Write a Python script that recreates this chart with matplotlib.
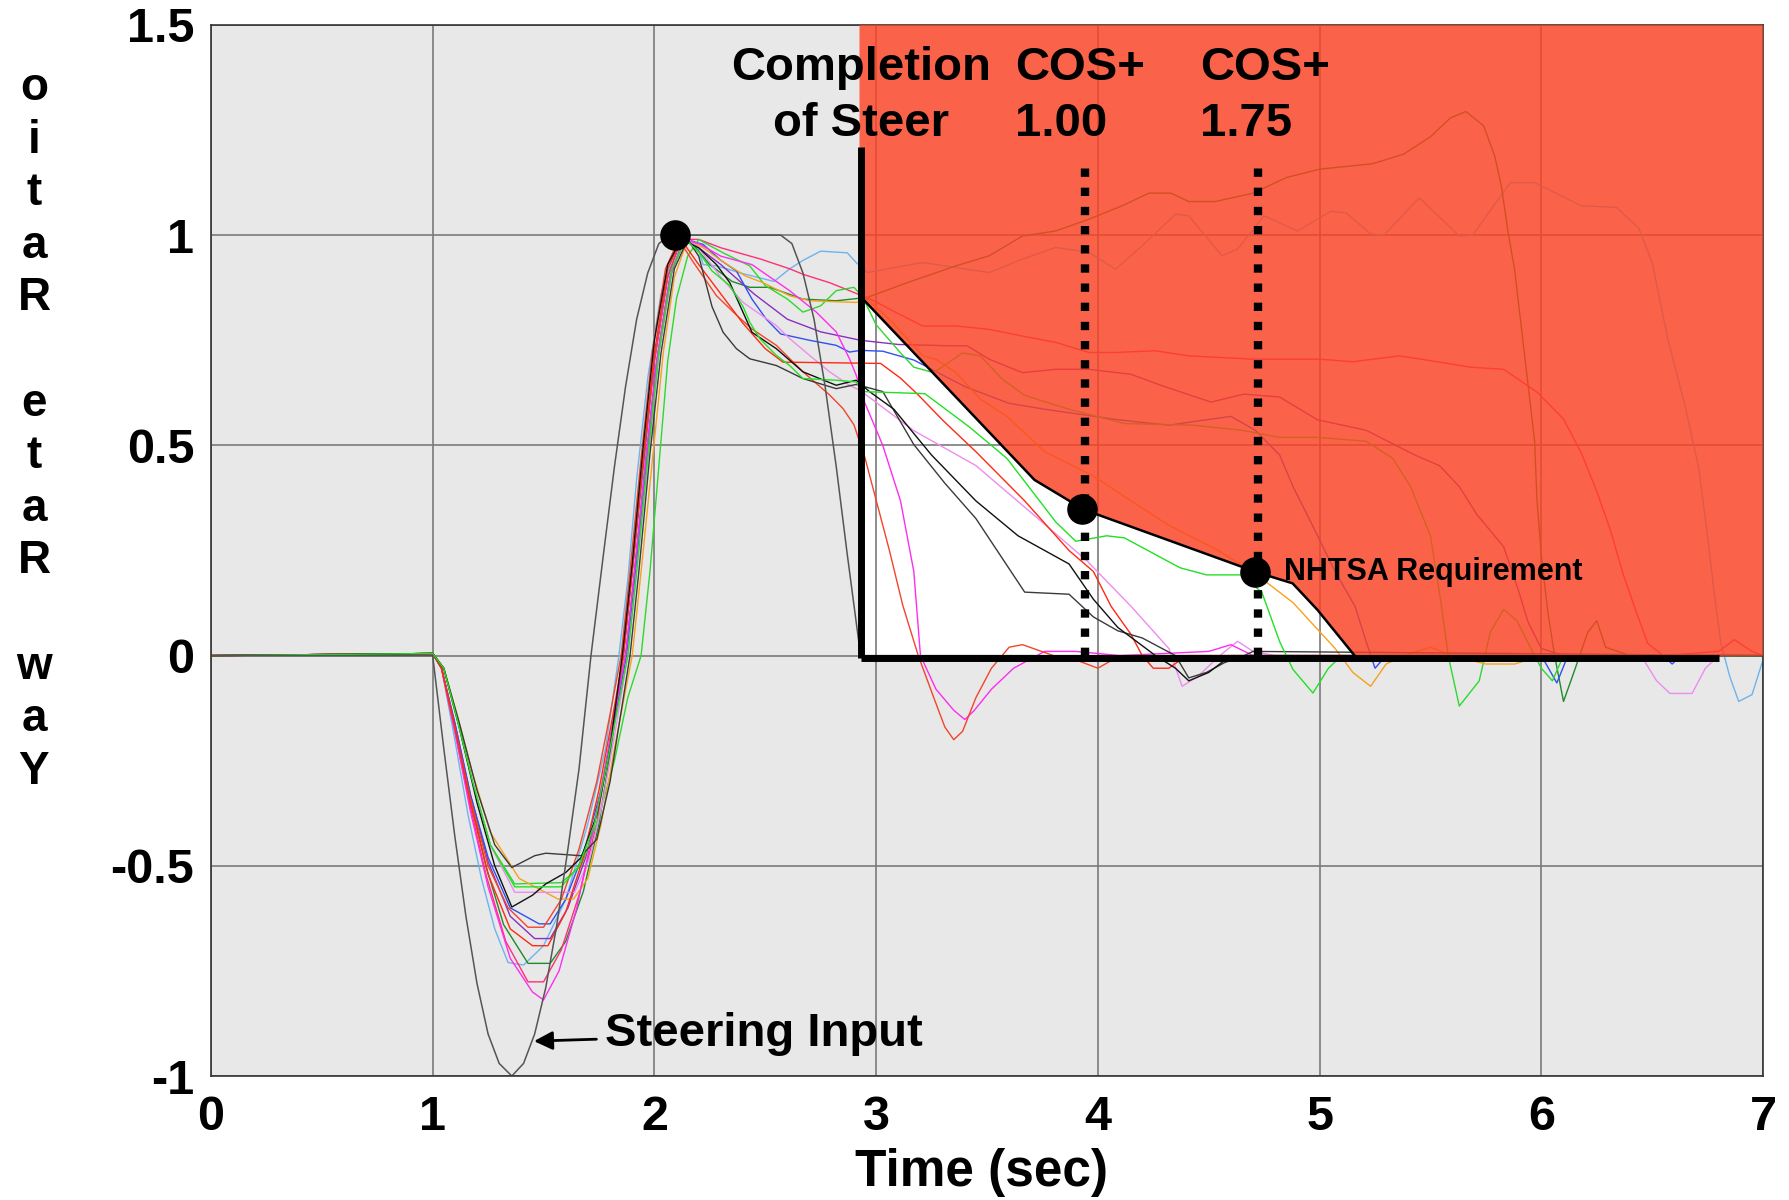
import numpy as np
import matplotlib.pyplot as plt
from matplotlib.patches import Polygon

plt.rcParams['font.family'] = ['Liberation Sans', 'DejaVu Sans']
plt.rcParams['font.weight'] = 'bold'
plt.rcParams['axes.unicode_minus'] = False

# ---- data (time in s, yaw rate ratio) ----
steer_t = [0, 1.0, 1.05, 1.1, 1.15, 1.2, 1.25, 1.3, 1.357, 1.41, 1.46, 1.51, 1.56, 1.61, 1.66, 1.714,
           1.77, 1.82, 1.87, 1.92, 1.97, 2.02, 2.07, 2.57, 2.62, 2.67, 2.72, 2.77, 2.82, 2.87, 2.93, 7.0]
steer_y = [0, 0, -0.22, -0.43, -0.62, -0.78, -0.9, -0.97, -1.0, -0.97, -0.9, -0.79, -0.64, -0.46, -0.27, 0,
           0.24, 0.45, 0.64, 0.8, 0.91, 0.98, 1.0, 1.0, 0.98, 0.91, 0.8, 0.64, 0.45, 0.24, 0, 0]

lblue = [(0, 0), (1.0, 0.005), (1.04, -0.03), (1.1, -0.2), (1.16, -0.38), (1.22, -0.53), (1.28, -0.65),
         (1.34, -0.73), (1.41, -0.736), (1.5, -0.69), (1.6, -0.58), (1.7, -0.4), (1.78, -0.22), (1.84, 0),
         (1.88, 0.18), (1.92, 0.42), (1.97, 0.66), (2.03, 0.86), (2.09, 0.96), (2.15, 0.995), (2.19, 0.98),
         (2.22, 0.93), (2.28, 0.927), (2.41, 0.907), (2.54, 0.89), (2.61, 0.92), (2.67, 0.94), (2.75, 0.962),
         (2.87, 0.958), (2.91, 0.935), (2.96, 0.911), (3.21, 0.935), (3.51, 0.911), (3.66, 0.943), (3.81, 0.971),
         (3.96, 0.959), (4.08, 0.919), (4.2, 0.975), (4.35, 1.05), (4.41, 1.046), (4.56, 0.951), (4.63, 0.967),
         (4.75, 1.046), (4.9, 1.01), (5.05, 1.057), (5.12, 1.053), (5.23, 1.003), (5.29, 1.0), (5.45, 1.089),
         (5.63, 0.998), (5.69, 1.0), (5.86, 1.125), (5.97, 1.125), (6.18, 1.07), (6.34, 1.066), (6.44, 1.016),
         (6.5, 0.935), (6.57, 0.754), (6.65, 0.59), (6.71, 0.446), (6.75, 0.283), (6.78, 0.147), (6.81, 0.029),
         (6.85, -0.05), (6.89, -0.109), (6.95, -0.093), (7.0, -0.01)]

dgreen = [(0, 0), (1.0, 0.005), (1.04, -0.03), (1.1, -0.17), (1.17, -0.34), (1.24, -0.5), (1.32, -0.64),
          (1.43, -0.732), (1.53, -0.732), (1.6, -0.68), (1.68, -0.56), (1.75, -0.4), (1.81, -0.2), (1.86, 0),
          (1.9, 0.2), (1.95, 0.45), (2.0, 0.7), (2.06, 0.9), (2.12, 0.99), (2.17, 0.98), (2.25, 0.93),
          (2.35, 0.89), (2.43, 0.876), (2.52, 0.876), (2.67, 0.848), (2.82, 0.844), (2.96, 0.852), (3.14, 0.887),
          (3.36, 0.927), (3.51, 0.951), (3.66, 0.998), (3.81, 1.01), (3.96, 1.038), (4.11, 1.07), (4.23, 1.1),
          (4.33, 1.1), (4.41, 1.08), (4.53, 1.08), (4.7, 1.1), (4.85, 1.137), (5.0, 1.157), (5.24, 1.17),
          (5.38, 1.193), (5.5, 1.234), (5.59, 1.279), (5.66, 1.294), (5.74, 1.26), (5.79, 1.188), (5.82, 1.116),
          (5.85, 1.007), (5.88, 0.917), (5.91, 0.78), (5.94, 0.645), (5.97, 0.509), (5.98, 0.373), (6.0, 0.237),
          (6.03, 0.101), (6.06, 0.0), (6.1, -0.109), (6.14, -0.05), (6.21, 0.056), (6.25, 0.083), (6.29, 0.02),
          (6.4, 0.0), (7.0, 0.0)]

crimson = [(0, 0), (1.0, 0.005), (1.04, -0.03), (1.1, -0.18), (1.17, -0.36), (1.24, -0.52), (1.33, -0.68),
           (1.43, -0.776), (1.5, -0.776), (1.58, -0.7), (1.66, -0.57), (1.74, -0.4), (1.8, -0.2), (1.86, 0),
           (1.9, 0.2), (1.95, 0.46), (2.0, 0.7), (2.06, 0.9), (2.12, 0.99), (2.2, 0.99), (2.3, 0.97),
           (2.48, 0.943), (2.61, 0.92), (2.67, 0.907), (2.79, 0.887), (2.88, 0.868), (2.99, 0.844), (3.09, 0.816),
           (3.21, 0.784), (3.36, 0.784), (3.51, 0.776), (3.66, 0.76), (3.81, 0.745), (3.96, 0.721), (4.08, 0.721),
           (4.26, 0.725), (4.41, 0.713), (4.7, 0.705), (5.0, 0.705), (5.15, 0.699), (5.36, 0.713), (5.53, 0.699),
           (5.68, 0.686), (5.83, 0.681), (5.98, 0.627), (6.1, 0.563), (6.18, 0.482), (6.25, 0.391), (6.31, 0.301),
           (6.37, 0.192), (6.43, 0.101), (6.48, 0.029), (6.55, 0.0), (6.8, 0.01), (6.87, 0.038), (6.95, 0.01),
           (7.0, 0.0)]

violet = [(0, 0), (1.0, 0.005), (1.04, -0.03), (1.1, -0.16), (1.17, -0.33), (1.25, -0.49), (1.35, -0.62),
          (1.46, -0.673), (1.53, -0.673), (1.61, -0.6), (1.69, -0.48), (1.76, -0.33), (1.82, -0.15), (1.87, 0),
          (1.91, 0.2), (1.96, 0.46), (2.01, 0.7), (2.07, 0.9), (2.13, 0.99), (2.2, 0.97), (2.3, 0.93),
          (2.45, 0.86), (2.6, 0.8), (2.75, 0.77), (2.93, 0.75), (3.1, 0.74), (3.33, 0.737), (3.41, 0.737),
          (3.51, 0.705), (3.66, 0.673), (3.81, 0.681), (3.96, 0.681), (4.15, 0.669), (4.3, 0.64), (4.51, 0.603),
          (4.66, 0.622), (4.82, 0.615), (4.99, 0.561), (5.21, 0.536), (5.43, 0.477), (5.54, 0.452), (5.63, 0.402),
          (5.71, 0.335), (5.83, 0.259), (5.9, 0.15), (5.94, 0.08), (6.0, 0.017), (6.1, 0.0), (7.0, 0.0)]

blue = [(0, 0), (1.0, 0.005), (1.04, -0.03), (1.1, -0.16), (1.17, -0.33), (1.25, -0.48), (1.35, -0.6),
        (1.48, -0.638), (1.53, -0.638), (1.6, -0.58), (1.68, -0.47), (1.76, -0.32), (1.82, -0.15), (1.875, 0),
        (1.92, 0.22), (1.97, 0.48), (2.02, 0.72), (2.08, 0.92), (2.14, 0.99), (2.22, 0.978), (2.3, 0.94),
        (2.37, 0.915), (2.44, 0.848), (2.505, 0.8), (2.57, 0.765), (2.7, 0.75), (2.82, 0.738), (2.88, 0.722),
        (2.93, 0.726), (3.03, 0.724), (3.17, 0.703), (3.4, 0.64), (3.6, 0.6), (3.76, 0.586), (4.09, 0.561),
        (4.32, 0.548), (4.49, 0.561), (4.6, 0.569), (4.71, 0.536), (4.82, 0.477), (4.88, 0.402), (4.96, 0.318),
        (5.07, 0.2), (5.16, 0.117), (5.21, 0.033), (5.25, -0.03), (5.3, 0.0), (6.0, 0.0), (6.07, -0.065),
        (6.12, 0.0), (6.55, 0.0), (6.59, -0.02), (6.63, 0.0), (7.0, 0.0)]

green_a = [(0, 0), (1.0, 0.005), (1.05, -0.03), (1.11, -0.15), (1.18, -0.3), (1.26, -0.45), (1.37, -0.543),
           (1.58, -0.54), (1.67, -0.5), (1.74, -0.4), (1.82, -0.25), (1.88, -0.1), (1.94, 0), (1.98, 0.2),
           (2.02, 0.45), (2.06, 0.7), (2.1, 0.85), (2.15, 0.95), (2.2, 0.99), (2.25, 0.975), (2.31, 0.958),
           (2.43, 0.927), (2.5, 0.88), (2.6, 0.848), (2.67, 0.817), (2.75, 0.832), (2.82, 0.868), (2.9, 0.876),
           (2.94, 0.852), (3.0, 0.787), (3.11, 0.72), (3.17, 0.686), (3.26, 0.673), (3.39, 0.72), (3.47, 0.713),
           (3.57, 0.657), (3.67, 0.619), (3.87, 0.586), (4.12, 0.552), (4.43, 0.548), (4.65, 0.536), (4.82, 0.519),
           (4.99, 0.519), (5.21, 0.51), (5.33, 0.469), (5.41, 0.402), (5.5, 0.285), (5.55, 0.117), (5.58, 0.0),
           (5.63, -0.12), (5.72, -0.06), (5.77, 0.056), (5.83, 0.11), (5.89, 0.083), (5.95, 0.02), (6.0, -0.03),
           (6.05, -0.06), (6.1, 0.0), (7.0, 0.0)]

orange = [(0, 0), (1.0, 0.005), (1.05, -0.03), (1.11, -0.14), (1.18, -0.28), (1.26, -0.42), (1.39, -0.53),
          (1.565, -0.579), (1.635, -0.579), (1.7, -0.53), (1.76, -0.4), (1.82, -0.22), (1.9, 0), (1.94, 0.2),
          (1.99, 0.46), (2.04, 0.72), (2.09, 0.9), (2.15, 0.99), (2.22, 0.97), (2.3, 0.94), (2.41, 0.903),
          (2.49, 0.887), (2.61, 0.856), (2.7, 0.844), (2.91, 0.84), (2.96, 0.848), (3.06, 0.8), (3.21, 0.713),
          (3.27, 0.705), (3.36, 0.673), (3.47, 0.61), (3.59, 0.569), (3.76, 0.485), (3.98, 0.427), (4.15, 0.368),
          (4.32, 0.31), (4.54, 0.251), (4.71, 0.195), (4.88, 0.126), (5.07, 0.017), (5.15, -0.04), (5.23, -0.073),
          (5.3, -0.02), (5.38, 0.0), (5.5, 0.02), (5.6, 0.0), (5.75, -0.02), (5.88, -0.02), (6.0, 0.0), (7.0, 0.0)]

pink = [(0, 0), (1.0, 0.005), (1.05, -0.03), (1.11, -0.15), (1.18, -0.3), (1.26, -0.45), (1.37, -0.563),
        (1.64, -0.563), (1.71, -0.48), (1.77, -0.34), (1.83, -0.16), (1.88, 0), (1.92, 0.2), (1.97, 0.46),
        (2.02, 0.72), (2.08, 0.92), (2.14, 0.995), (2.2, 0.97), (2.3, 0.9), (2.4, 0.84), (2.55, 0.785),
        (2.61, 0.754), (2.7, 0.714), (2.79, 0.675), (2.88, 0.643), (2.93, 0.63), (3.17, 0.535), (3.45, 0.452),
        (3.73, 0.326), (3.95, 0.226), (4.15, 0.117), (4.32, 0.017), (4.38, -0.073), (4.45, -0.05), (4.49, -0.03),
        (4.55, 0.0), (4.63, 0.034), (4.7, 0.01), (4.8, 0.0), (6.45, 0.0), (6.52, -0.06), (6.58, -0.09),
        (6.68, -0.09), (6.74, -0.03), (6.8, 0.0), (7.0, 0.0)]

magenta = [(0, 0), (1.0, 0.005), (1.04, -0.03), (1.1, -0.18), (1.17, -0.37), (1.25, -0.55), (1.35, -0.72),
           (1.45, -0.8), (1.5, -0.819), (1.57, -0.75), (1.65, -0.6), (1.73, -0.4), (1.8, -0.2), (1.87, 0),
           (1.91, 0.2), (1.96, 0.46), (2.01, 0.7), (2.07, 0.9), (2.13, 0.99), (2.2, 0.98), (2.3, 0.95),
           (2.44, 0.93), (2.61, 0.868), (2.73, 0.817), (2.82, 0.77), (2.88, 0.706), (2.91, 0.667), (2.95, 0.6),
           (3.03, 0.5), (3.11, 0.368), (3.17, 0.2), (3.2, 0.0), (3.27, -0.08), (3.35, -0.13), (3.4, -0.152),
           (3.44, -0.132), (3.52, -0.08), (3.62, -0.03), (3.76, 0.01), (3.9, 0.01), (4.1, 0.0), (4.5, 0.01),
           (4.6, 0.026), (4.7, 0.0), (7.0, 0.0)]

red = [(0, 0), (1.0, 0.005), (1.04, -0.03), (1.1, -0.17), (1.17, -0.34), (1.25, -0.5), (1.34, -0.6),
       (1.43, -0.646), (1.5, -0.646), (1.58, -0.58), (1.66, -0.46), (1.74, -0.3), (1.8, -0.14), (1.85, 0),
       (1.89, 0.2), (1.94, 0.47), (1.99, 0.72), (2.05, 0.92), (2.11, 0.99), (2.17, 0.94), (2.28, 0.856),
       (2.37, 0.81), (2.44, 0.777), (2.55, 0.738), (2.67, 0.675), (2.79, 0.62), (2.85, 0.588), (2.9, 0.549),
       (2.95, 0.47), (3.0, 0.37), (3.06, 0.25), (3.12, 0.12), (3.19, 0.0), (3.26, -0.1), (3.31, -0.17),
       (3.35, -0.2), (3.39, -0.18), (3.45, -0.1), (3.52, -0.03), (3.6, 0.02), (3.66, 0.026), (3.8, 0.0),
       (3.9, -0.01), (4.0, -0.03), (4.1, 0.0), (7.0, 0.0)]

red2 = [(0, 0), (1.0, 0.005), (1.04, -0.03), (1.1, -0.17), (1.17, -0.35), (1.25, -0.52), (1.35, -0.65),
        (1.45, -0.69), (1.52, -0.69), (1.6, -0.61), (1.68, -0.48), (1.75, -0.32), (1.81, -0.15), (1.86, 0),
        (1.9, 0.2), (1.95, 0.47), (2.0, 0.72), (2.06, 0.92), (2.12, 0.99), (2.2, 0.93), (2.3, 0.86),
        (2.4, 0.79), (2.5, 0.73), (2.58, 0.698), (3.02, 0.695), (3.11, 0.66), (3.19, 0.62), (3.3, 0.56),
        (3.45, 0.485), (3.67, 0.368), (3.87, 0.25), (3.98, 0.2), (4.06, 0.117), (4.15, 0.05), (4.2, 0.0),
        (4.25, -0.03), (4.32, -0.03), (4.4, 0.0), (7.0, 0.0)]

black_a = [(0, 0), (1.0, 0.005), (1.05, -0.03), (1.12, -0.16), (1.2, -0.32), (1.28, -0.45), (1.357, -0.504),
           (1.46, -0.476), (1.51, -0.47), (1.67, -0.476), (1.74, -0.437), (1.8, -0.3), (1.86, -0.1), (1.89, 0),
           (1.93, 0.2), (1.98, 0.48), (2.03, 0.72), (2.09, 0.92), (2.15, 0.99), (2.2, 0.95), (2.26, 0.83),
           (2.31, 0.769), (2.37, 0.73), (2.43, 0.706), (2.55, 0.69), (2.67, 0.659), (2.82, 0.635), (2.91, 0.645),
           (3.03, 0.628), (3.17, 0.502), (3.31, 0.41), (3.45, 0.326), (3.67, 0.151), (3.87, 0.146), (3.98, 0.092),
           (4.09, 0.059), (4.2, 0.042), (4.35, 0.0), (4.41, -0.053), (4.49, -0.04), (4.57, -0.017), (4.66, 0.0),
           (4.7, 0.01), (7.0, 0.0)]

black_b = [(0, 0), (1.0, 0.005), (1.05, -0.03), (1.12, -0.17), (1.2, -0.35), (1.28, -0.5), (1.357, -0.598),
           (1.45, -0.57), (1.51, -0.543), (1.6, -0.516), (1.67, -0.48), (1.74, -0.38), (1.8, -0.22), (1.855, 0),
           (1.9, 0.22), (1.95, 0.5), (2.0, 0.75), (2.06, 0.93), (2.12, 0.99), (2.2, 0.97), (2.28, 0.93),
           (2.34, 0.887), (2.44, 0.769), (2.55, 0.73), (2.67, 0.675), (2.82, 0.643), (2.91, 0.655), (2.97, 0.628),
           (3.08, 0.586), (3.25, 0.477), (3.45, 0.368), (3.64, 0.285), (3.87, 0.218), (3.98, 0.134), (4.09, 0.067),
           (4.26, 0.0), (4.35, -0.03), (4.41, -0.06), (4.5, -0.04), (4.6, 0.0), (7.0, 0.0)]

green_b = [(0, 0), (1.0, 0.005), (1.05, -0.03), (1.11, -0.15), (1.18, -0.3), (1.26, -0.45), (1.37, -0.55),
           (1.58, -0.55), (1.66, -0.5), (1.73, -0.4), (1.8, -0.22), (1.88, 0), (1.92, 0.2), (1.97, 0.47),
           (2.02, 0.72), (2.08, 0.92), (2.14, 0.99), (2.2, 0.96), (2.26, 0.915), (2.34, 0.88), (2.4, 0.83),
           (2.43, 0.793), (2.475, 0.754), (2.55, 0.714), (2.61, 0.69), (2.67, 0.659), (2.82, 0.655), (2.91, 0.651),
           (2.94, 0.628), (3.22, 0.623), (3.42, 0.544), (3.59, 0.469), (3.81, 0.318), (3.9, 0.272), (4.04, 0.285),
           (4.12, 0.28), (4.37, 0.209), (4.49, 0.192), (4.65, 0.192), (4.74, 0.15), (4.82, 0.033), (4.88, -0.033),
           (4.97, -0.089), (5.04, -0.03), (5.1, 0.0), (7.0, 0.0)]

# NHTSA requirement envelope (upper edge of the pass region)
req_t = [2.93, 3.714, 3.938, 4.724, 4.878, 4.99, 5.158]
req_y = [0.854, 0.418, 0.347, 0.197, 0.172, 0.109, 0.0]
cos_t = 2.93
cos_lines = [3.94, 4.72]
dot_t = [2.095, 3.93, 4.71]
dot_y = [1.0, 0.349, 0.2]

fig = plt.figure(figsize=(17.89, 12), dpi=100)
ax = fig.add_axes([0.1179, 0.1033, 0.8676, 0.8759])
ax.set_facecolor('#e8e8e8')

# white pass region
white = list(zip(req_t, req_y)) + [(cos_t, 0.0)]
ax.add_patch(Polygon(white, closed=True, fc='white', ec='none', zorder=0.3))

curves = [
    (lblue, '#6cb4ee'), (dgreen, '#1f8a2a'), (crimson, '#ff2f78'), (violet, '#8a2fc0'),
    (blue, '#3050f0'), (green_a, '#2ed82e'), (orange, '#f6a21c'), (pink, '#ee8cee'),
    (magenta, '#ff2cf0'), (red, '#f2452a'), (red2, '#ff2a12'), (black_a, '#3a3a3a'),
    (black_b, '#111111'), (green_b, '#22e022'),
]
for pts, col in curves:
    a = np.array(pts)
    ax.plot(a[:, 0], a[:, 1], color=col, lw=1.0, zorder=2)
ax.plot(steer_t, steer_y, color='#555555', lw=1.1, zorder=2.1)

# fail region overlay
red_poly = [(cos_t - 0.005, 1.5), (7, 1.5), (7, 0.0)] + list(zip(req_t, req_y))[::-1] + [(cos_t - 0.005, 0.854)]
ax.add_patch(Polygon(red_poly, closed=True, fc=(1.0, 0.26, 0.13), alpha=0.8, ec='none', zorder=3))

ax.plot(req_t, req_y, color='k', lw=1.8, zorder=4)
ax.plot([cos_t, cos_t], [-0.005, 1.21], color='k', lw=5, solid_capstyle='butt', zorder=4)
ax.plot([cos_t, 6.8], [-0.005, -0.005], color='k', lw=5, solid_capstyle='butt', zorder=4)
for xl in cos_lines:
    ax.plot([xl, xl], [0, 1.165], color='k', lw=6, linestyle=(0, (1, 1.3)), dash_capstyle='butt', zorder=4)
ax.plot(dot_t, dot_y, 'o', ms=21, color='k', zorder=5)

fs = 34
ax.text(cos_t, 1.33, 'Completion\nof Steer', ha='center', va='center', fontsize=fs,
        fontweight='bold', linespacing=1.35, zorder=6)
ax.text(3.628, 1.33, 'COS+\n1.00', ha='left', va='center', fontsize=fs,
        fontweight='bold', linespacing=1.35, zorder=6)
ax.text(4.462, 1.33, 'COS+\n1.75', ha='left', va='center', fontsize=fs,
        fontweight='bold', linespacing=1.35, zorder=6)
ax.text(4.838, 0.2, 'NHTSA Requirement', ha='left', va='center', fontsize=22,
        fontweight='bold', zorder=6)
ax.annotate('Steering Input', xy=(1.457, -0.917), xytext=(1.776, -0.9), ha='left', va='center',
            fontsize=fs, fontweight='bold', zorder=6,
            arrowprops=dict(arrowstyle='-|>', color='k', lw=2, mutation_scale=28, shrinkA=4, shrinkB=0))

ax.set_xlim(0, 7)
ax.set_ylim(-1, 1.5)
ax.set_xticks(range(8))
ax.set_xticklabels([str(i) for i in range(8)])
ax.set_yticks([-1, -0.5, 0, 0.5, 1, 1.5])
ax.set_yticklabels(['-1', '-0.5', '0', '0.5', '1', '1.5'])
ax.tick_params(length=0, labelsize=35)
ax.tick_params(axis='x', pad=14)
ax.tick_params(axis='y', pad=12)
for lab in ax.get_xticklabels() + ax.get_yticklabels():
    lab.set_fontweight('bold')
ax.grid(True, color='#7a7a7a', lw=1.2)
ax.set_axisbelow(True)
for s in ax.spines.values():
    s.set_color('#333333')
    s.set_linewidth(1.2)

fig.text(0.5484, 0.0233, 'Time (sec)', ha='center', va='center', fontsize=37, fontweight='bold')

ylab = 'Yaw Rate Ratio'
for i, ch in enumerate(ylab[::-1]):
    fig.text(0.019, 1 - (100 + i * 52.6) / 1200, ch, ha='center', va='baseline',
             fontsize=33, fontweight='bold')

fig.savefig('out.png', dpi=100)
